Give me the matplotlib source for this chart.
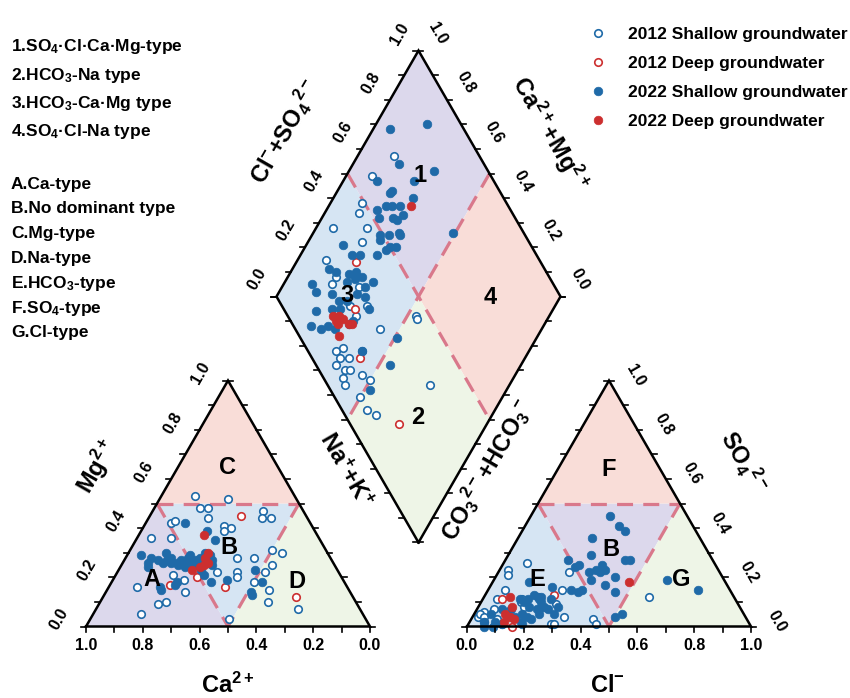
import matplotlib
matplotlib.use('Agg')
import matplotlib.pyplot as plt
import numpy as np

plt.rcParams['font.family'] = 'Liberation Sans'
plt.rcParams['font.weight'] = 'bold'
plt.rcParams['mathtext.fontset'] = 'custom'
plt.rcParams['mathtext.rm'] = 'Liberation Sans:bold'
plt.rcParams['mathtext.it'] = 'Liberation Sans:bold'
plt.rcParams['mathtext.bf'] = 'Liberation Sans:bold'
plt.rcParams['mathtext.default'] = 'regular'

# ---------------------------------------------------------
# DATA (fractions)
# ---------------------------------------------------------
# 2012 shallow groundwater
s12_ca = [.35, .24, .36, .33, .14, .16, .13, .35, .49, .47, .31, .29, .32, .52, .59, .19, .16, .27, .22,
          .36, .37, .43, .26, .59, .56, .32, .58, .28, .31, .70, .67, .78, .22, .48, .74, .33]
s12_mg = [.53, .52, .48, .48, .47, .44, .44, .44, .42, .43, .41, .40, .39, .36, .36, .31, .30, .28, .25,
          .22, .20, .22, .22, .21, .19, .18, .14, .15, .10, .09, .10, .05, .07, .03, .16, .28]
s12_cl = [.08, .03, .04, .06, .25, .26, .58, .43, .45, .32, .29, .03, .02, .06, .14, .20, .05, .02, .04,
          .30, .14, .05, .09, .11, .16, .22, .27, .12]
s12_so4 = [.26, .23, .21, .15, .22, .15, .12, .03, .01, .04, .01, .06, .04, .07, .11, .11, .11, .05, .04,
           .01, .10, .02, .03, .06, .08, .07, .09, .01]
s12_camg = [.87, .91, .89, .88, .94, .82, .81, .90, .83, .83, .73, .72, .66, .68, .57, .47, .46, .68, .66,
            .65, .62, .59, .65, .61, .59, .60, .54, .50, .58, .50, .45, .41, .28]
s12_clso4 = [.70, .58, .49, .46, .34, .46, .41, .25, .25, .22, .31, .24, .30, .24, .30, .45, .45, .10, .13,
             .10, .13, .19, .07, .09, .11, .07, .14, .16, .06, .09, .09, .11, .36]

# 2012 deep groundwater
d12_ca = [.23, .62, .51, .43, .20]
d12_mg = [.45, .17, .20, .16, .12]
d12_cl = [.07, .16, .24]
d12_so4 = [.11, .00, .13]
d12_camg = [.79, .70, .58, .31]
d12_clso4 = [.35, .25, .17, .17]

# 2022 shallow groundwater
s22_ca = [.44, .66, .57, .65, .38, .37, .41, .29, .35, .66, .59, .48, .43, .29, .35, .60, .66, .47, .42,
          .63, .61, .60, .58, .57, .55, .53, .52, .50, .50, .48, .46, .46, .44, .42, .55, .53, .49, .48,
          .56, .49, .43, .48, .66]
s22_mg = [.42, .29, .30, .26, .39, .35, .19, .18, .14, .16, .18, .21, .25, .23, .13, .17, .15, .18, .27,
          .28, .27, .26, .27, .26, .26, .27, .26, .28, .26, .27, .28, .26, .28, .29, .25, .24, .25, .23,
          .28, .29, .30, .25, .24]
s22_cl = [.28, .33, .36, .26, .29, .22, .27, .26, .34, .35, .37, .36, .42, .44, .42, .40, .45, .34, .32,
          .33, .29, .32, .22, .52, .50, .74, .61, .13, .19, .17, .20, .24, .23, .28, .21, .18, .17, .21,
          .18, .15, .06, .05, .09, .12, .28, .23, .16, .21, .25, .09, .12, .13, .15, .06, .09, .19, .19]
s22_so4 = [.45, .41, .39, .36, .29, .27, .25, .24, .23, .25, .23, .22, .27, .27, .20, .17, .14, .19, .22,
           .15, .15, .14, .16, .05, .04, .15, .19, .18, .12, .13, .12, .11, .08, .08, .07, .08, .05, .03,
           .02, .04, .05, .02, .02, .01, .05, .05, .11, .10, .07, .07, .07, .11, .10, .00, .00, .01, .04]
s22_camg = [.82, .94, .84, .70, .88, .75, .81, .81, .72, .82, .80, .78, .75, .80, .75, .73, .72, .76, .75,
            .73, .70, .69, .87, .70, .68, .51, .82, .79, .73, .71, .87, .84, .79, .77, .78, .76, .74, .69,
            .90, .87, .81, .77, .74, .72, .71, .69, .83, .78, .75, .65, .82, .78, .76, .73, .69, .68, .59,
            .49, .46, .48]
s22_clso4 = [.88, .74, .70, .81, .59, .72, .61, .62, .68, .53, .57, .59, .62, .52, .57, .58, .61, .49, .48,
             .52, .56, .56, .34, .50, .52, .75, .35, .38, .44, .48, .24, .26, .30, .33, .28, .31, .34, .37,
             .15, .15, .20, .21, .24, .29, .33, .31, .11, .17, .20, .30, .06, .09, .12, .14, .20, .22, .19,
             .34, .26, .14]

# 2022 deep groundwater
d22_ca = [.40, .42, .44, .46, .48, .51, .44]
d22_mg = [.37, .30, .26, .25, .24, .23, .28]
d22_cl = [.09, .12, .11, .13, .15, .12, .48]
d22_so4 = [.12, .08, .05, .04, .03, .02, .18]
d22_camg = [.71, .76, .74, .72, .69, .68, .73, .70, .74]
d22_clso4 = [.66, .16, .18, .19, .20, .21, .16, .14, .16]

tick_vals = [0.0, 0.2, 0.4, 0.6, 0.8, 1.0]
type_notes = ['1.SO$_4$\u00b7Cl\u00b7Ca\u00b7Mg-type', '2.HCO$_3$-Na type', '3.HCO$_3$-Ca\u00b7Mg type',
              '4.SO$_4$\u00b7Cl-Na type']
class_notes = ['A.Ca-type', 'B.No dominant type', 'C.Mg-type', 'D.Na-type', 'E.HCO$_3$-type',
               'F.SO$_4$-type', 'G.Cl-type']

# ---------------------------------------------------------
# GEOMETRY (pixel space)
# ---------------------------------------------------------
S = 284.0
H = S * np.sqrt(3) / 2
X0, Y0 = 86.0, 626.5
GAP = 97.0
AX0 = X0 + S + GAP
BX, BY = X0 + S + GAP / 2, Y0 - GAP * np.sqrt(3) / 2

BLUE = '#1f6aa8'
RED = '#cc2f2f'
DASH = '#d9788b'
C_LAV = '#dcd8ec'
C_BLUE = '#d6e5f3'
C_PINK = '#f9ddd8'
C_GREEN = '#eef5e7'


def cat_xy(ca, mg):
    ca, mg = np.asarray(ca), np.asarray(mg)
    na = 1 - ca - mg
    return X0 + S * (na + mg / 2), Y0 - H * mg


def an_xy(cl, so4):
    cl, so4 = np.asarray(cl), np.asarray(so4)
    return AX0 + S * (cl + so4 / 2), Y0 - H * so4


def dia_xy(camg, clso4):
    camg, clso4 = np.asarray(camg), np.asarray(clso4)
    return BX + (clso4 - camg) * S / 2, BY - (camg + clso4) * H


fig = plt.figure(figsize=(8.5, 6.98), dpi=100)
ax = fig.add_axes([0, 0, 1, 1])
ax.set_xlim(0, 850)
ax.set_ylim(698, 0)
ax.axis('off')


def poly(pts, color):
    ax.fill([p[0] for p in pts], [p[1] for p in pts], color=color, lw=0, zorder=1)


def dashed(p, q):
    ax.plot([p[0], q[0]], [p[1], q[1]], color=DASH, lw=2.3, dashes=(5, 3.2), zorder=2)


# triangles: regions
for ox, cols in [(X0, (C_LAV, C_BLUE, C_PINK, C_GREEN)), (AX0, (C_BLUE, C_LAV, C_PINK, C_GREEN))]:
    bl, br, ap = (ox, Y0), (ox + S, Y0), (ox + S / 2, Y0 - H)
    ml, mr, mb = (ox + S / 4, Y0 - H / 2), (ox + 3 * S / 4, Y0 - H / 2), (ox + S / 2, Y0)
    poly([bl, ml, mb], cols[0])
    poly([ml, mr, mb], cols[1])
    poly([ml, ap, mr], cols[2])
    poly([mb, mr, br], cols[3])
    dashed(ml, mr)
    dashed(ml, mb)
    dashed(mr, mb)

# diamond regions
Bp = (BX, BY)
Lp = (BX - S / 2, BY - H)
Rp = (BX + S / 2, BY - H)
Tp = (BX, BY - 2 * H)
Cp = (BX, BY - H)
mid = lambda a, b: ((a[0] + b[0]) / 2, (a[1] + b[1]) / 2)
mBL, mBR, mLT, mRT = mid(Bp, Lp), mid(Bp, Rp), mid(Lp, Tp), mid(Rp, Tp)
poly([Lp, mLT, Cp, mBL], C_BLUE)
poly([mLT, Tp, mRT, Cp], C_LAV)
poly([Cp, mRT, Rp, mBR], C_PINK)
poly([mBL, Cp, mBR, Bp], C_GREEN)
dashed(mLT, mBR)
dashed(mRT, mBL)

# ---------------------------------------------------------
# POINTS
# ---------------------------------------------------------
series = [
    ('2012 Shallow groundwater', BLUE, False, (s12_ca, s12_mg), (s12_cl, s12_so4), (s12_camg, s12_clso4)),
    ('2012 Deep groundwater', RED, False, (d12_ca, d12_mg), (d12_cl, d12_so4), (d12_camg, d12_clso4)),
    ('2022 Shallow groundwater', BLUE, True, (s22_ca, s22_mg), (s22_cl, s22_so4), (s22_camg, s22_clso4)),
    ('2022 Deep groundwater', RED, True, (d22_ca, d22_mg), (d22_cl, d22_so4), (d22_camg, d22_clso4)),
]
handles = []
for z, (name, col, filled, cat, an, dia) in enumerate(series):
    kw = dict(linestyle='none', marker='o', zorder=3 + z)
    if filled:
        kw.update(markersize=6.2, markerfacecolor=col, markeredgecolor=col, markeredgewidth=0.5)
    else:
        kw.update(markersize=5.4, markerfacecolor='white', markeredgecolor=col, markeredgewidth=1.2)
    for fn, vals in [(cat_xy, cat), (an_xy, an), (dia_xy, dia)]:
        x, y = fn(*vals)
        h, = ax.plot(x, y, label=name, **kw)
    handles.append(h)

# ---------------------------------------------------------
# OUTLINES, TICKS, LABELS
# ---------------------------------------------------------
lw = 1.8
for ox in (X0, AX0):
    ax.plot([ox, ox + S, ox + S / 2, ox], [Y0, Y0, Y0 - H, Y0], color='black', lw=lw, zorder=8,
            solid_joinstyle='miter')
ax.plot([Bp[0], Lp[0], Tp[0], Rp[0], Bp[0]], [Bp[1], Lp[1], Tp[1], Rp[1], Bp[1]], color='black', lw=lw,
        zorder=8, solid_joinstyle='miter')

TL = 5
t = np.linspace(0, 1, 11)
for ox in (X0, AX0):
    for f in t:
        ax.plot([ox + S * f] * 2, [Y0, Y0 + TL], color='black', lw=1.2, zorder=8)
        lx, ly = ox + S * f / 2, Y0 - H * f
        ax.plot([lx, lx - TL], [ly, ly], color='black', lw=1.2, zorder=8)
        rx = ox + S - S * f / 2
        ax.plot([rx, rx + TL], [ly, ly], color='black', lw=1.2, zorder=8)
for f in t:
    for a, b, sgn in [(Lp, Tp, -1), (Bp, Lp, -1), (Tp, Rp, 1), (Bp, Rp, 1)]:
        px, py = a[0] + (b[0] - a[0]) * f, a[1] + (b[1] - a[1]) * f
        ax.plot([px, px + sgn * TL], [py, py], color='black', lw=1.2, zorder=8)

fs_tick = 11.5
for v in tick_vals:
    # cation bottom (Ca, 1 at left)
    ax.text(X0 + S * (1 - v), Y0 + 19, f'{v:.1f}', ha='center', va='center', fontsize=fs_tick)
    # cation left (Mg)
    ax.text(X0 + S * v / 2 - 27, Y0 - H * v - 7, f'{v:.1f}', ha='center', va='center', fontsize=fs_tick,
            rotation=60)
    # anion bottom (Cl)
    ax.text(AX0 + S * v, Y0 + 19, f'{v:.1f}', ha='center', va='center', fontsize=fs_tick)
    # anion right (SO4)
    ax.text(AX0 + S - S * v / 2 + 26, Y0 - H * v - 5, f'{v:.1f}', ha='center', va='center',
            fontsize=fs_tick, rotation=-60)
    # diamond upper-left (Cl + SO4)
    px, py = Lp[0] + (Tp[0] - Lp[0]) * v, Lp[1] + (Tp[1] - Lp[1]) * v
    ax.text(px - 19, py - 17, f'{v:.1f}', ha='center', va='center', fontsize=fs_tick, rotation=60)
    # diamond upper-right (Ca + Mg)
    px, py = Rp[0] + (Tp[0] - Rp[0]) * v, Rp[1] + (Tp[1] - Rp[1]) * v
    ax.text(px + 19, py - 17, f'{v:.1f}', ha='center', va='center', fontsize=fs_tick, rotation=-60)

fs_ax = 17
ax.text(228, 685, 'Ca$^{2+}$', ha='center', va='center', fontsize=fs_ax)
ax.text(97, 467, 'Mg$^{2+}$', ha='center', va='center', fontsize=fs_ax, rotation=60)
ax.text(345, 470, 'Na$^{+}$+K$^{+}$', ha='center', va='center', fontsize=fs_ax, rotation=-60)
ax.text(487, 470, 'CO$_3$$^{2-}$+HCO$_3$$^{-}$', ha='center', va='center', fontsize=fs_ax, rotation=60)
ax.text(285, 132, 'Cl$^{-}$+SO$_4$$^{2-}$', ha='center', va='center', fontsize=fs_ax, rotation=60)
ax.text(550, 133, 'Ca$^{2+}$+Mg$^{2+}$', ha='center', va='center', fontsize=fs_ax, rotation=-60)
ax.text(607, 685, 'Cl$^{-}$', ha='center', va='center', fontsize=fs_ax)
ax.text(743, 462, 'SO$_4$$^{2-}$', ha='center', va='center', fontsize=fs_ax, rotation=-60)

fs_reg = 17
regions = [('1', 420, 175), ('2', 418, 418), ('3', 347, 295), ('4', 490, 297),
           ('A', 152, 580), ('B', 229, 547), ('C', 228, 467), ('D', 297, 581),
           ('E', 537, 580), ('B', 611, 549), ('F', 609, 470), ('G', 681, 580)]
for s, x, y in regions:
    ax.text(x, y, s, ha='center', va='center', fontsize=fs_reg, zorder=10)

fs_note = 12.5
for i, s in enumerate(type_notes):
    ax.text(11, 47 + 28.3 * i, s, ha='left', va='center', fontsize=fs_note)
for i, s in enumerate(class_notes):
    ax.text(11, 184 + 24.8 * i, s, ha='left', va='center', fontsize=fs_note)

ax.legend(handles, [h.get_label() for h in handles], loc='upper left', bbox_to_anchor=(589, 27),
          bbox_transform=ax.transData, frameon=False, fontsize=12.5, handlelength=1.0,
          handletextpad=1.25, labelspacing=0.8, borderaxespad=0, borderpad=0)

fig.savefig('out.png', dpi=100)
